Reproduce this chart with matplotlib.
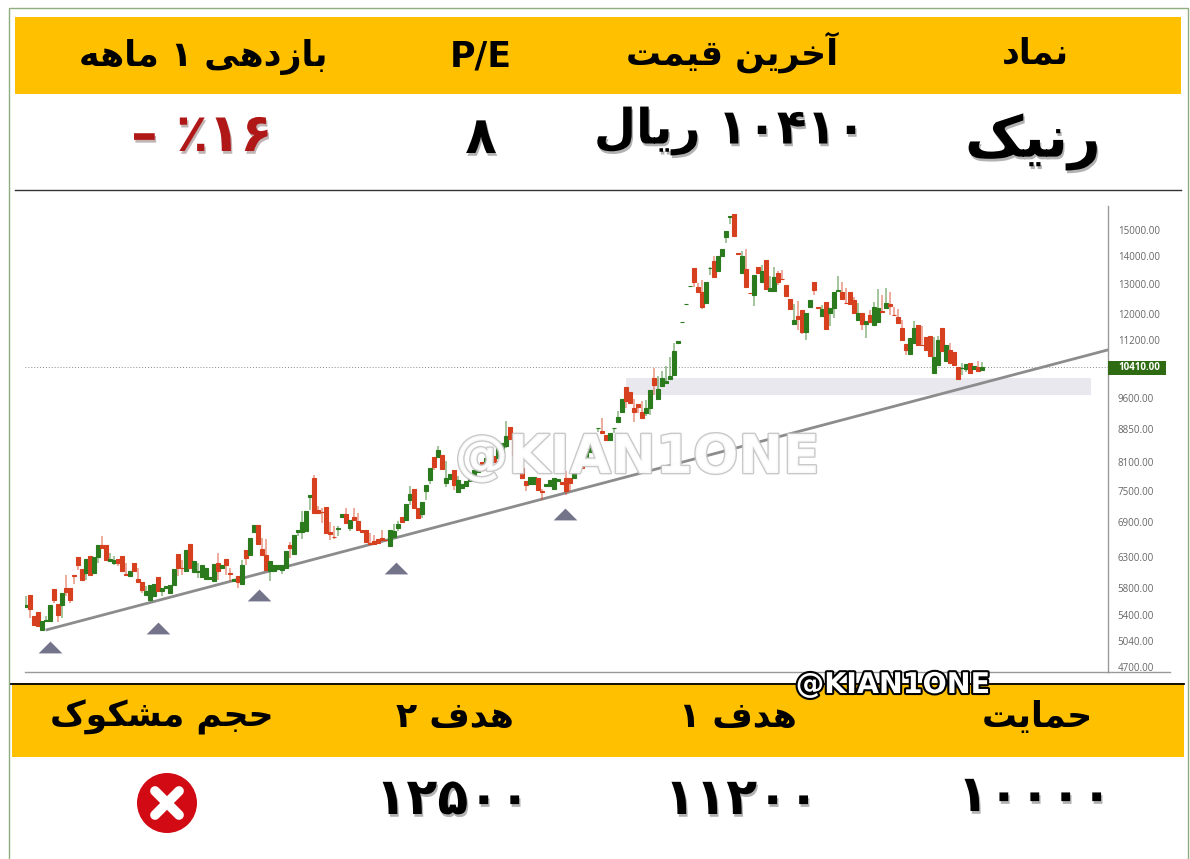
#!/usr/bin/env python3
"""Stock card for the symbol Ranik: header table, candlestick chart, targets table."""
import re

import matplotlib
matplotlib.use('Agg')
import matplotlib.pyplot as plt
import matplotlib.patheffects as pe
from matplotlib.patches import Rectangle, Circle
from matplotlib.ticker import NullLocator

# ── Chart data ──────────────────────────────────────────────────────────────

opens = [
    5510, 5682, 5374, 5431, 5187, 5303, 5303, 5784, 5554, 5543,
    5800, 5795, 6003, 6292, 6099, 6030, 6303, 6030, 6292, 6489,
    6489, 6219, 6193, 6258, 6303, 6010, 5976, 6193, 5940, 5888,
    5682, 5617, 5667, 5967, 5743, 5795, 5717, 5846, 6343, 6115,
    6056, 6519, 6040, 6050, 5959, 5935, 5935, 5898, 6193, 6111,
    6264, 6025, 5898, 5976, 5857, 6403, 6331, 6725, 6856, 6432,
    6331, 6056, 6067, 6099, 6083, 6111, 6489, 6347, 6725, 6718,
    6735, 7379, 7761, 7122, 7095, 7186, 6716, 6638, 6775, 7000,
    7058, 6796, 6990, 6929, 6752, 6752, 6525, 6571, 6600, 6618,
    6580, 6484, 6630, 6795, 6990, 6934, 7313, 7537, 7167, 7058,
    7490, 7726, 8205, 8197, 8256, 7660, 7746, 7933, 7478, 7557,
    7605, 7705, 7767, 7892, 8105, 8016, 8105, 8234, 8190, 8321,
    8440, 8897, 8591, 8256, 7975, 7691, 7640, 7645, 7761, 7495,
    7590, 7590, 7543, 7700, 7680, 7761, 7761, 7767, 7933, 8147,
    8147, 8321, 8500, 8860, 8785, 8706, 8575, 8860, 8995, 9261,
    9880, 9766, 9345, 9445, 9261, 9222, 9345, 10120, 9571, 9898,
    9985, 10093, 10210, 11105, 11735, 12310, 12920, 13551, 12885, 12735,
    12350, 13560, 13815, 13465, 14010, 14735, 15540, 15653, 14100, 13371,
    13525, 12700, 12623, 13597, 13078, 13840, 12765, 12765, 13371, 13180,
    12963, 12480, 11690, 11950, 12131, 11452, 12240, 13078, 12210, 11925,
    12400, 12022, 12185, 12760, 12718, 12360, 12706, 12457, 11813, 12045,
    11680, 11970, 11640, 11760, 12080, 12185, 12327, 11975, 11915, 11555,
    11080, 10795, 11105, 11660, 11060, 11285, 11305, 10270, 10485, 11555,
    10605, 10909, 10840, 10420, 10385, 10364, 10542, 10364, 10420, 10345,
]
closes = [
    5543, 5485, 5247, 5233, 5313, 5327, 5539, 5617, 5398, 5717,
    5734, 5617, 5985, 6165, 5924, 6264, 5992, 6292, 6501, 6444,
    6236, 6258, 6247, 6193, 6067, 6003, 6067, 6056, 5888, 5769,
    5743, 5846, 5862, 5743, 5795, 5831, 5842, 6099, 6111, 6105,
    6415, 6111, 6219, 6060, 6165, 6111, 5967, 6177, 6067, 6155,
    6155, 6015, 5935, 5881, 6155, 6275, 6618, 6856, 6519, 6331,
    6071, 6231, 6165, 6165, 6155, 6387, 6444, 6663, 6765, 6898,
    7102, 7425, 7072, 7072, 7085, 6705, 6693, 6630, 6790, 7058,
    6887, 6934, 6947, 6752, 6718, 6541, 6510, 6514, 6530, 6577,
    6575, 6752, 6735, 6868, 6905, 7243, 7444, 7167, 6979, 7281,
    7618, 7969, 7990, 8351, 7960, 7761, 7841, 7610, 7726, 7640,
    7705, 7821, 7933, 8040, 7933, 8190, 8278, 8105, 8410, 8523,
    8683, 8607, 8256, 7975, 7767, 7610, 7790, 7790, 7523, 7485,
    7640, 7726, 7761, 7745, 7640, 7503, 7660, 7933, 8105, 7975,
    8366, 8546, 8730, 8876, 8749, 8591, 8749, 8876, 9123, 9579,
    9511, 9470, 9261, 9385, 9100, 9345, 9810, 9941, 9845, 10120,
    10048, 10165, 10890, 11180, 11750, 12325, 12940, 13057, 12725, 12220,
    13078, 13575, 13230, 14010, 14250, 14950, 15568, 14775, 14075, 14010,
    12885, 12690, 13300, 13371, 13453, 12826, 12850, 13254, 13078, 13170,
    12600, 12154, 11813, 11835, 11452, 12022, 12457, 12792, 12195, 12163,
    11535, 12205, 12735, 12780, 12480, 12340, 12327, 12022, 12022, 11690,
    11782, 11760, 12240, 12205, 12065, 12350, 12270, 11965, 11730, 11203,
    10909, 11255, 11575, 11055, 11050, 10909, 10745, 10700, 11203, 10890,
    11055, 10533, 10467, 10109, 10395, 10515, 10270, 10457, 10326, 10410,
]
highs = [
    5667, 5682, 5374, 5431, 5313, 5374, 5539, 5784, 5554, 5717,
    5992, 5795, 6003, 6292, 6099, 6264, 6303, 6292, 6501, 6646,
    6489, 6360, 6303, 6258, 6303, 6193, 6067, 6193, 6111, 5888,
    5820, 5846, 5862, 5967, 5795, 5831, 5842, 6099, 6343, 6247,
    6415, 6519, 6219, 6193, 6165, 6111, 5967, 6177, 6360, 6155,
    6264, 6111, 5935, 5976, 6247, 6403, 6618, 6856, 6856, 6618,
    6600, 6231, 6165, 6165, 6155, 6387, 6550, 6663, 6765, 7102,
    7102, 7425, 7830, 7197, 7167, 7186, 6898, 6825, 6825, 7058,
    7167, 6934, 7167, 7072, 6752, 6752, 6705, 6677, 6600, 6765,
    6580, 6752, 6874, 6916, 6990, 7243, 7590, 7537, 7167, 7281,
    7618, 7969, 8205, 8440, 8256, 8125, 7841, 7933, 7800, 7640,
    7705, 7821, 7933, 8040, 8105, 8190, 8278, 8234, 8410, 8523,
    9020, 8897, 8591, 8256, 7975, 7691, 7790, 7790, 7761, 7530,
    7640, 7726, 7761, 7745, 7680, 7899, 7761, 7933, 8105, 8147,
    8366, 8546, 8730, 8876, 9100, 8706, 8749, 8876, 9286, 9579,
    9880, 9766, 9579, 9445, 9511, 9553, 9810, 10392, 10165, 10326,
    10457, 10700, 11105, 11180, 11750, 12325, 12940, 13551, 13022, 13136,
    13078, 13610, 14000, 14010, 14250, 14950, 15568, 15653, 14100, 14198,
    14250, 12700, 13300, 13597, 13670, 13840, 13277, 13597, 13465, 13489,
    12963, 12480, 12327, 12434, 12131, 12022, 12457, 13078, 12210, 12294,
    12400, 12205, 12735, 13277, 13078, 12850, 12706, 12565, 12350, 12045,
    11782, 12131, 12400, 12815, 12623, 12850, 12735, 12240, 12154, 11813,
    11080, 11255, 11790, 11660, 11627, 11285, 11305, 11285, 11323, 11555,
    11055, 11122, 10840, 10420, 10533, 10515, 10542, 10457, 10605, 10570,
]
lows = [
    5495, 5351, 5247, 5233, 5187, 5303, 5303, 5569, 5290, 5351,
    5667, 5569, 5857, 6083, 5924, 5924, 5992, 6030, 6193, 6444,
    6236, 6219, 6155, 6137, 6067, 6003, 5976, 6056, 5888, 5717,
    5682, 5617, 5667, 5743, 5667, 5795, 5717, 5846, 5976, 6003,
    6056, 6111, 6040, 5950, 5959, 5935, 5935, 5898, 5924, 6111,
    6003, 5898, 5898, 5795, 5857, 6165, 6331, 6725, 6519, 6331,
    6071, 5898, 6067, 6099, 6018, 6111, 6275, 6347, 6660, 6600,
    6735, 7134, 7072, 7072, 6887, 6705, 6588, 6600, 6660, 7000,
    6887, 6735, 6947, 6752, 6718, 6541, 6501, 6514, 6530, 6577,
    6575, 6484, 6630, 6735, 6905, 6934, 7230, 7167, 6979, 6979,
    7313, 7645, 7933, 8197, 7960, 7578, 7746, 7523, 7478, 7557,
    7605, 7705, 7767, 7892, 7933, 8016, 8105, 8105, 8190, 8321,
    8400, 8607, 8256, 7975, 7767, 7490, 7640, 7645, 7523, 7326,
    7590, 7590, 7543, 7700, 7640, 7425, 7490, 7767, 7933, 7975,
    8147, 8321, 8500, 8769, 8749, 8591, 8575, 8749, 8995, 9261,
    9345, 9440, 9018, 9222, 9100, 9141, 9180, 9681, 9571, 9898,
    9985, 10093, 10210, 11105, 11735, 12310, 12920, 12905, 12725, 12154,
    12350, 13310, 13230, 13465, 14010, 14480, 15240, 14775, 14075, 13371,
    12885, 12690, 12270, 13371, 13078, 12826, 12765, 12765, 12963, 13170,
    12600, 12154, 11690, 11504, 11382, 11203, 12240, 12623, 12195, 11925,
    11535, 11627, 11865, 12760, 12480, 12340, 12327, 12022, 11813, 11504,
    11270, 11760, 11640, 11760, 12065, 12185, 11970, 11965, 11730, 11203,
    10765, 10795, 11105, 11055, 11050, 10909, 10745, 10270, 10485, 10890,
    10605, 10533, 10467, 10109, 10210, 10290, 10270, 10364, 10326, 10345,
]

tick_values = [15000, 14000, 13000, 12000, 11200, 9600, 8850, 8100,
               7500, 6900, 6300, 5800, 5400, 5040, 4700]
last_price = 10410

# trend line and support zone, as (bar index, price)
trend_bars = [5.25, 270.5]
trend_prices = [5187, 10909]
zone_bars = [150, 266.25]
zone_prices = [9681, 10127]
marker_bars = [5.9, 33, 58.25, 92.5, 134.75]
marker_prices = [4958, 5215, 5692, 6115, 7058]

# ── Table text ──────────────────────────────────────────────────────────────

top_heads = ['نماد', 'آخرین قیمت', 'P/E', 'بازدهی ۱ ماهه']
top_values = ['رنیک', '۱۰۴۱۰ ریال', '۸']
change_value = '– ٪۱۶'
bottom_heads = ['حمایت', 'هدف ۱', 'هدف ۲', 'حجم مشکوک']
bottom_values = ['۱۰۰۰۰', '۱۱۲۰۰', '۱۲۵۰۰']

# ── Helpers ─────────────────────────────────────────────────────────────────

# first presentation form (isolated); final, initial, medial follow it
DUAL = {'ب': 0xFE8F, 'ت': 0xFE95, 'ج': 0xFE9D, 'ح': 0xFEA1, 'خ': 0xFEA5,
        'ش': 0xFEB5, 'ف': 0xFED1, 'ق': 0xFED5, 'ل': 0xFEDD, 'م': 0xFEE1,
        'ن': 0xFEE5, 'ه': 0xFEE9, 'ی': 0xFBFC, 'ک': 0xFB8E}
RIGHT = {'ا': 0xFE8D, 'آ': 0xFE81, 'د': 0xFEA9, 'ر': 0xFEAD, 'ز': 0xFEAF, 'و': 0xFEED}


def shape(text):
    """matplotlib has no bidi or joining, so do both for Persian text here."""
    if text.isascii():
        return text
    out = []
    for i, ch in enumerate(text):
        if ch not in DUAL and ch not in RIGHT:
            out.append(ch)
            continue
        joins_prev = i > 0 and text[i - 1] in DUAL
        joins_next = ch in DUAL and i + 1 < len(text) and text[i + 1] in {**DUAL, **RIGHT}
        base = DUAL.get(ch, RIGHT.get(ch))
        offset = (1 if joins_prev else 0) + (2 if joins_next else 0)
        out.append(chr(base + offset))
    visual = ''.join(reversed(out))
    return re.sub('[۰-۹]+', lambda m: m.group(0)[::-1], visual)


plt.rcParams['font.family'] = ['DejaVu Sans']

fig = plt.figure(figsize=(11.9, 8.59), dpi=100, facecolor='white')

# ── Candlesticks ────────────────────────────────────────────────────────────

ax = fig.add_axes([25 / 1190, 1 - 672 / 859, 1083 / 1190, 466 / 859])
ax.set_yscale('log')

RED, GREEN = '#d6401f', '#2c7a1e'
bars = list(range(len(opens)))
colors = [GREEN if c >= o else RED for o, c in zip(opens, closes)]

ax.add_patch(Rectangle((zone_bars[0], zone_prices[0]), zone_bars[1] - zone_bars[0],
                       zone_prices[1] - zone_prices[0], color='#e8e8ee', lw=0, zorder=1))
ax.axhline(last_price, color='#8a8a8a', lw=0.7, ls=(0, (1, 2)), zorder=1)
ax.plot(trend_bars, trend_prices, color='#8c8c8c', lw=2, zorder=2)
ax.vlines(bars, lows, highs, colors=colors, lw=1.1, alpha=0.55, zorder=3)
ax.bar(bars, [abs(c - o) for o, c in zip(opens, closes)],
       bottom=[min(o, c) for o, c in zip(opens, closes)],
       width=0.85, color=colors, edgecolor=colors, lw=0.8, zorder=4)
ax.scatter(marker_bars, marker_prices, s=290, color='#73738a', lw=0, zorder=5,
           marker=[(-1.1, -0.55), (1.1, -0.55), (0, 0.55)])

ax.set_xlim(-0.25, 270.5)
ax.set_ylim(4636, 15987)
ax.set_xticks([])
ax.set_yticks(tick_values, [f'{v:.2f}' for v in tick_values],
              family='Open Sans', fontsize=7, color='#666666')
ax.yaxis.set_minor_locator(NullLocator())
ax.tick_params(axis='y', which='both', length=0, right=True, left=False,
               labelright=True, labelleft=False, pad=7)
for side in ('top', 'left'):
    ax.spines[side].set_visible(False)
for side in ('right', 'bottom'):
    ax.spines[side].set_color('#9a9a9a')
    ax.spines[side].set_linewidth(1)

# ── Card, drawn over the chart in pixel coordinates ─────────────────────────

card = fig.add_axes([0, 0, 1, 1], zorder=10)
card.set_xlim(0, 1190)
card.set_ylim(859, 0)
card.axis('off')
card.patch.set_alpha(0)

card.add_patch(Rectangle((9, 8), 1179, 860, fill=False, ec='#8fae7f', lw=1))
card.add_patch(Rectangle((15, 17), 1166, 77, color='#FFC000', lw=0))
card.add_patch(Rectangle((12, 683), 1172, 74, color='#FFC000', lw=0))
card.plot([15, 1181], [189.5, 189.5], color='#333333', lw=1)
card.plot([11, 1184], [683.5, 683.5], color='black', lw=1.3)
card.plot([1108, 1170], [672, 672], color='#9a9a9a', lw=1)

# last price tag on the axis
card.add_patch(Rectangle((1108, 361), 58, 14, color='#2f6b12', lw=0))
card.text(1118, 368, f'{last_price:.2f}', family='Open Sans', fontsize=7,
          weight='bold', color='white', ha='left', va='center')


def label(x, y, text, size, color='black', shadow=False):
    t = card.text(x, y, shape(text), fontsize=size, weight='bold', color=color,
                  ha='center', va='center')
    if shadow:
        t.set_path_effects([pe.withSimplePatchShadow(offset=(1, -2), alpha=0.3)])
    return t


for x, y, text in zip([1035, 732, 481, 203], [54, 52, 57, 57], top_heads):
    label(x, y, text, 25)
label(1033, 142, top_values[0], 41, shadow=True)
label(730, 131, top_values[1], 35, shadow=True)
label(481, 139, top_values[2], 37, shadow=True)
card.text(202, 136, change_value, fontsize=38, weight='bold', color='#b01818',
          ha='center', va='center',
          path_effects=[pe.withSimplePatchShadow(offset=(1, -2), alpha=0.3)])

for x, text in zip([1037, 738, 455, 162], bottom_heads):
    label(x, 717, text, 25)
for x, y, text in zip([1035, 742, 453], [797, 800, 800], bottom_values):
    label(x, y, text, 36.5, shadow=True)

# rejected-volume badge
card.add_patch(Circle((167, 803), 30, color='#d10a14', lw=0))
card.plot([155, 179], [791, 815], color='white', lw=7, solid_capstyle='round')
card.plot([155, 179], [815, 791], color='white', lw=7, solid_capstyle='round')

# watermarks
card.text(637, 458, '@KIAN1ONE', fontsize=38.5, weight='bold', color='white', alpha=0.9,
          ha='center', va='center',
          path_effects=[pe.withStroke(linewidth=2, foreground='#c4c4c4')])
card.text(893, 685, '@KIAN1ONE', fontsize=20.5, weight='bold', color='white',
          ha='center', va='center',
          path_effects=[pe.withStroke(linewidth=3, foreground='black')])

fig.savefig('out.png', dpi=100)
